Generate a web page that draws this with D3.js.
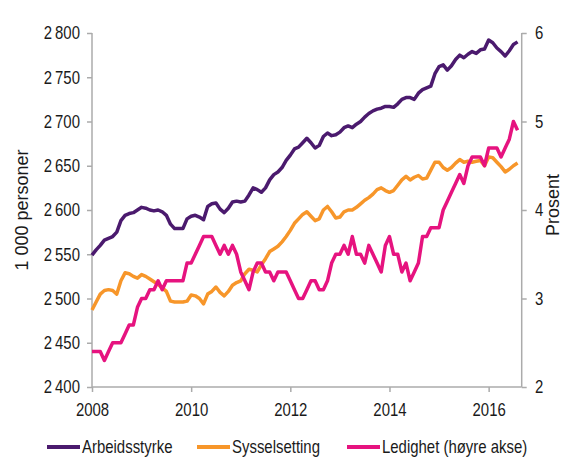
<!DOCTYPE html>
<html lang="no">
<head>
<meta charset="utf-8">
<title>Arbeidsstyrke, sysselsetting og ledighet</title>
<script src="https://d3js.org/d3.v7.min.js"></script>
<style>
  body { margin: 0; background: #fff; }
  svg { display: block; font-family: "Liberation Sans", Arial, sans-serif; }
  .axis path, .axis line { stroke: #ababab; stroke-width: 1.5px; }
  .axis text { fill: #1a1a1a; font-size: 18px; }
</style>
</head>
<body>
<div id="chart"></div>
<script>
// monthly, jan 2008 - aug 2016
var startYear = 2008;
var xTickYears = [2008, 2010, 2012, 2014, 2016];
var leftTicks = [2400, 2450, 2500, 2550, 2600, 2650, 2700, 2750, 2800];
var rightTicks = [2, 3, 4, 5, 6];
var seriesNames = ["Arbeidsstyrke", "Sysselsetting", "Ledighet (høyre akse)"];

// 1 000 personer
var arbeidsstyrke = [
  2549, 2555, 2560, 2566, 2568, 2570, 2575, 2588, 2594, 2596, 2597, 2600,
  2603, 2602, 2600, 2599, 2600, 2598, 2594, 2584, 2579, 2579, 2579, 2590,
  2593, 2594, 2592, 2589, 2604, 2607, 2608, 2601, 2597, 2602, 2609, 2610,
  2609, 2610, 2617, 2625, 2623, 2620, 2625, 2634, 2640, 2643, 2648, 2656,
  2662, 2669, 2671, 2676, 2681, 2676, 2670, 2673, 2683, 2687, 2684, 2685,
  2688, 2693, 2695, 2693, 2697, 2700, 2705, 2709, 2712, 2714, 2715, 2717,
  2717, 2716, 2720, 2725, 2727, 2727, 2725, 2732, 2736, 2738, 2740, 2754,
  2762, 2764, 2758, 2763, 2770, 2775, 2772, 2776, 2779, 2777, 2781, 2782,
  2792, 2789, 2783, 2779, 2774, 2780, 2787, 2790
];
var sysselsetting = [
  2487, 2496, 2505, 2509, 2510, 2509, 2505, 2520, 2529, 2528, 2525, 2523,
  2527, 2525, 2522, 2519, 2516, 2512, 2508, 2497, 2496, 2496, 2496, 2497,
  2504, 2503, 2500, 2494, 2505, 2508, 2513, 2507, 2503, 2508, 2515, 2518,
  2520, 2528, 2533, 2532, 2530, 2538, 2545, 2553, 2556, 2559, 2564, 2570,
  2577, 2585, 2590, 2595, 2598, 2593, 2588, 2590, 2600, 2604, 2598, 2591,
  2592, 2598, 2600, 2600, 2603, 2607, 2611, 2614, 2618, 2623, 2625, 2622,
  2620, 2622, 2628, 2634, 2638, 2634, 2637, 2639, 2635, 2636, 2645, 2654,
  2654, 2648, 2645, 2648, 2653, 2657, 2654, 2655, 2654, 2655, 2656, 2650,
  2660, 2659, 2654, 2649, 2643, 2646, 2650, 2653
];
// prosent
var ledighet = [
  2.4, 2.4, 2.4, 2.3, 2.4, 2.5, 2.5, 2.5, 2.6, 2.7, 2.7, 2.9,
  3.0, 3.0, 3.1, 3.1, 3.2, 3.1, 3.2, 3.2, 3.2, 3.2, 3.2, 3.4,
  3.4, 3.5, 3.6, 3.7, 3.7, 3.7, 3.6, 3.5, 3.6, 3.5, 3.6, 3.5,
  3.3, 3.2, 3.1, 3.3, 3.4, 3.4, 3.3, 3.3, 3.2, 3.3, 3.3, 3.3,
  3.2, 3.1, 3.0, 3.0, 3.1, 3.2, 3.2, 3.1, 3.1, 3.2, 3.4, 3.5,
  3.5, 3.6, 3.5, 3.7, 3.5, 3.5, 3.4, 3.6, 3.5, 3.4, 3.3, 3.6,
  3.7, 3.5, 3.5, 3.3, 3.4, 3.2, 3.3, 3.4, 3.7, 3.7, 3.8, 3.8,
  3.8, 4.0, 4.1, 4.2, 4.3, 4.4, 4.3, 4.5, 4.6, 4.6, 4.6, 4.5,
  4.7, 4.7, 4.7, 4.6, 4.7, 4.8, 5.0, 4.9
];
var colors = ["#4b1a6e", "#f7962a", "#e6137f"];

var width = 568, height = 458;
var plotL = 92, plotR = 521.7, plotT = 33, plotB = 387;
var squeeze = 0.83;

var svg = d3.select("#chart").append("svg")
    .attr("width", width)
    .attr("height", height);

var x = d3.scaleLinear().domain([0, 104]).range([plotL, plotR]);
var yL = d3.scaleLinear().domain([2400, 2800]).range([plotB, plotT]);
var yR = d3.scaleLinear().domain([2, 6]).range([plotB, plotT]);

function fmtThousands(d) {
    var s = String(d);
    return s.length > 3 ? s.slice(0, s.length - 3) + "\u2009" + s.slice(s.length - 3) : s;
}

var gl = svg.append("g").attr("class", "axis")
    .attr("transform", "translate(" + plotL + ",0)")
    .call(d3.axisLeft(yL).tickValues(leftTicks).tickSize(5).tickPadding(9.5).tickFormat(fmtThousands));

var gr = svg.append("g").attr("class", "axis")
    .attr("transform", "translate(" + plotR + ",0)")
    .call(d3.axisRight(yR).tickValues(rightTicks).tickSize(5).tickPadding(11).tickFormat(d3.format("d")));

var gx = svg.append("g").attr("class", "axis")
    .attr("transform", "translate(0," + plotB + ")")
    .call(d3.axisBottom(x)
        .tickValues(xTickYears.map(function (yr) { return (yr - startYear) * 12; }))
        .tickSize(5).tickPadding(11)
        .tickFormat(function (d) { return startYear + d / 12; }));

[gl, gr, gx].forEach(function (g) {
    g.selectAll("text").attr("transform", "scale(" + squeeze + ",1)");
});
// plain domain lines, no outer ticks
gl.select(".domain").attr("d", "M0," + plotT + "V" + plotB);
gr.select(".domain").attr("d", "M0," + plotT + "V" + plotB);
gx.select(".domain").attr("d", "M" + plotL + ",0H" + plotR);

// axis titles
svg.append("text")
    .attr("transform", "translate(28,210) rotate(-90)")
    .attr("text-anchor", "middle")
    .style("font-size", "18px").style("fill", "#1a1a1a")
    .text("1 000 personer");

svg.append("text")
    .attr("transform", "translate(559,205) rotate(-90)")
    .attr("text-anchor", "middle")
    .style("font-size", "18px").style("fill", "#1a1a1a")
    .text("Prosent");

// lines
var lineL = d3.line().x(function (d, i) { return x(i); }).y(function (d) { return yL(d); });
var lineR = d3.line().x(function (d, i) { return x(i); }).y(function (d) { return yR(d); });

var series = [
    { data: arbeidsstyrke, line: lineL },
    { data: sysselsetting, line: lineL },
    { data: ledighet, line: lineR }
];

svg.append("g").selectAll("path")
    .data(series)
    .enter()
    .append("path")
    .attr("d", function (d) { return d.line(d.data); })
    .style("fill", "none")
    .style("stroke", function (d, i) { return colors[i]; })
    .style("stroke-width", 3.5)
    .style("stroke-linejoin", "round");

// legend
var legendX = [47, 197, 347];
var legend = svg.append("g").selectAll("g")
    .data(seriesNames)
    .enter()
    .append("g")
    .attr("transform", function (d, i) { return "translate(" + legendX[i] + ",447)"; });

legend.append("line")
    .attr("x1", 0).attr("x2", 33)
    .attr("y1", 0).attr("y2", 0)
    .style("stroke", function (d, i) { return colors[i]; })
    .style("stroke-width", 4);

legend.append("text")
    .attr("transform", "translate(35,5.5) scale(" + squeeze + ",1)")
    .style("font-size", "18px").style("fill", "#1a1a1a")
    .text(function (d) { return d; });
</script>
</body>
</html>
